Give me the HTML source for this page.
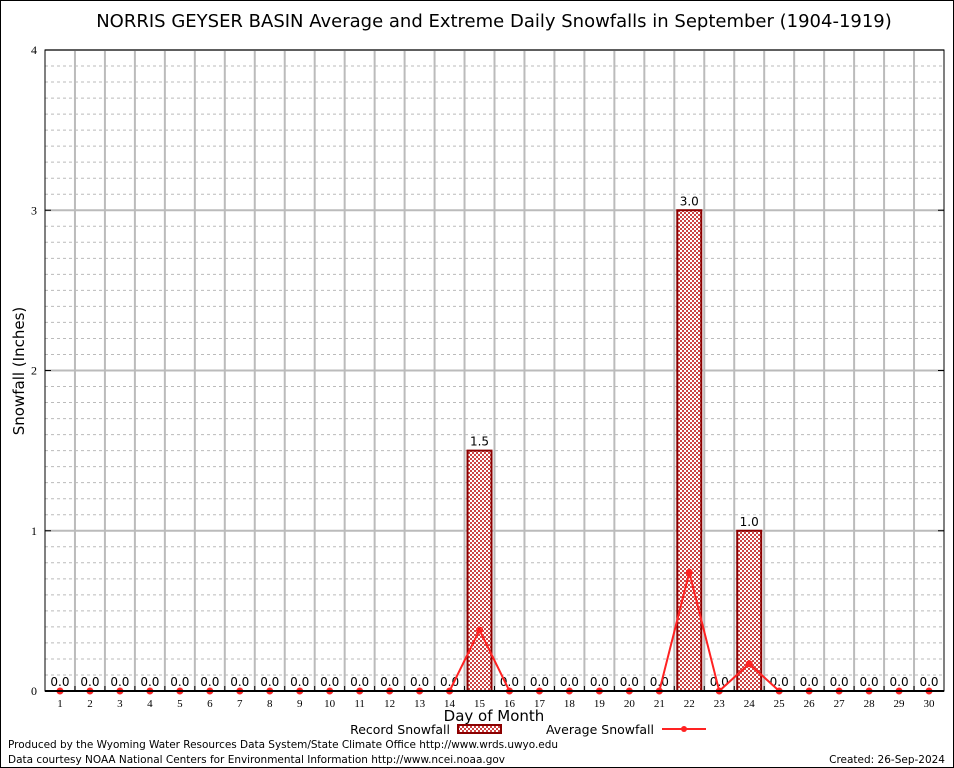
<!DOCTYPE html>
<html><head><meta charset="utf-8"><style>
body{margin:0;background:#fff}
svg{display:block;font-family:"DejaVu Sans","Liberation Sans",sans-serif}
</style></head><body>
<svg id="chart" width="954" height="768" viewBox="0 0 954 768" xmlns="http://www.w3.org/2000/svg">
<defs>
<pattern id="hatch" width="4" height="4" patternUnits="userSpaceOnUse">
<rect width="4" height="4" fill="#fff"/><rect width="2" height="2" fill="#c44"/><rect x="2" y="2" width="2" height="2" fill="#c44"/>
</pattern>
</defs>
<rect x="0.5" y="0.5" width="953" height="767" fill="#fff" stroke="#000"/>
<text x="494" y="27" font-size="18" text-anchor="middle">NORRIS GEYSER BASIN Average and Extreme Daily Snowfalls in September (1904-1919)</text>
<g id="grid"></g>
<g id="bars"></g>
<g id="avg"></g>
<g id="axes"></g>
<text transform="translate(24,371) rotate(-90)" font-size="15" text-anchor="middle">Snowfall (Inches)</text>
<text x="494" y="721" font-size="15" text-anchor="middle">Day of Month</text>
<g>
<text x="450" y="734" font-size="12.5" text-anchor="end">Record Snowfall</text>
<rect x="458" y="725" width="43" height="8" fill="url(#hatch)" stroke="#8b0000" stroke-width="2"/>
</g>
<g>
<text x="654" y="734" font-size="12.5" text-anchor="end">Average Snowfall</text>
<line x1="662" y1="729" x2="706" y2="729" stroke="#f22" stroke-width="2"/>
<circle cx="684" cy="729" r="3" fill="#f22"/>
</g>
<text x="8" y="748" font-size="10.5" textLength="550">Produced by the Wyoming Water Resources Data System/State Climate Office http://www.wrds.uwyo.edu</text>
<text x="8" y="763" font-size="10.5" textLength="497">Data courtesy NOAA National Centers for Environmental Information http://www.ncei.noaa.gov</text>
<text x="945" y="763" font-size="10.5" text-anchor="end">Created: 26-Sep-2024</text>
</svg>
<script>
const days=[1,2,3,4,5,6,7,8,9,10,11,12,13,14,15,16,17,18,19,20,21,22,23,24,25,26,27,28,29,30];
const recordSnow=[0,0,0,0,0,0,0,0,0,0,0,0,0,0,1.5,0,0,0,0,0,0,3.0,0,1.0,0,0,0,0,0,0];
const avgSnow=[0,0,0,0,0,0,0,0,0,0,0,0,0,0,0.38,0,0,0,0,0,0,0.74,0,0.17,0,0,0,0,0,0];
const yTicks=[0,1,2,3,4];
const L=45,R=944,T=50,B=691,yMax=4;
const NS="http://www.w3.org/2000/svg";
const step=(R-L)/days.length;
function xs(d){return L+step*(d-0.5);}
function ys(v){return B-(B-T)*v/yMax;}
function mk(tag,attrs,parent){const e=document.createElementNS(NS,tag);for(const k in attrs)e.setAttribute(k,attrs[k]);parent.appendChild(e);return e;}
const grid=document.getElementById('grid'),bars=document.getElementById('bars'),avg=document.getElementById('avg'),axes=document.getElementById('axes');
for(let i=0;i<=yMax*10;i++){const v=i/10;if(i%10===0)continue;
 const l=mk('line',{x1:L,x2:R,y1:ys(v),y2:ys(v),stroke:'#bbb','stroke-width':1,'stroke-dasharray':'3,3'},grid);
 
 }
for(let i=1;i<days.length;i++){const x=L+step*i;
 const l=mk('line',{x1:x,x2:x,y1:T,y2:B,stroke:'#bbb','stroke-width':2},grid);
 
 }
yTicks.forEach(v=>{if(v>0){const l=mk('line',{x1:L,x2:R,y1:ys(v),y2:ys(v),stroke:'#bbb','stroke-width':2},grid);
 
 }
 const t=mk('text',{x:L-8,y:ys(v)+4,'font-size':12,'text-anchor':'end','font-family':'Liberation Serif,serif'},axes);t.textContent=v;
 
 
 mk('line',{x1:L,x2:L+6,y1:ys(v),y2:ys(v),stroke:'#000'},axes);mk('line',{x1:R-6,x2:R,y1:ys(v),y2:ys(v),stroke:'#000'},axes);});
mk('rect',{x:L,y:T,width:R-L,height:B-T,fill:'none',stroke:'#000','stroke-width':1},axes);
days.forEach((d,i)=>{const x=xs(d),v=recordSnow[i];
 if(v>0){const b=mk('rect',{x:x-12,y:ys(v),width:24,height:B-ys(v),fill:'url(#hatch)',stroke:'#8b0000','stroke-width':2},bars);
  
  }
 const t=mk('text',{x:x,y:ys(v)-5,'font-size':12,'text-anchor':'middle'},bars);t.textContent=v.toFixed(1);
 
 
 const xt=mk('text',{x:x,y:B+16,'font-size':11,'text-anchor':'middle','font-family':'Liberation Serif,serif'},axes);xt.textContent=d;
 
 
 mk('line',{x1:L+step*(i+1),x2:L+step*(i+1),y1:B,y2:B-5,stroke:'#000'},axes);});
mk('line',{x1:L,x2:R,y1:B,y2:B,stroke:'#000','stroke-width':2},axes);
const pts=days.map((d,i)=>xs(d)+','+ys(avgSnow[i])).join(' ');
const pl=mk('polyline',{points:pts,fill:'none',stroke:'#f22','stroke-width':2},avg);


days.forEach((d,i)=>{const c=mk('circle',{cx:xs(d),cy:ys(avgSnow[i]),r:3.5,fill:'#f22'},avg);
 
 });
</script>
</body></html>
